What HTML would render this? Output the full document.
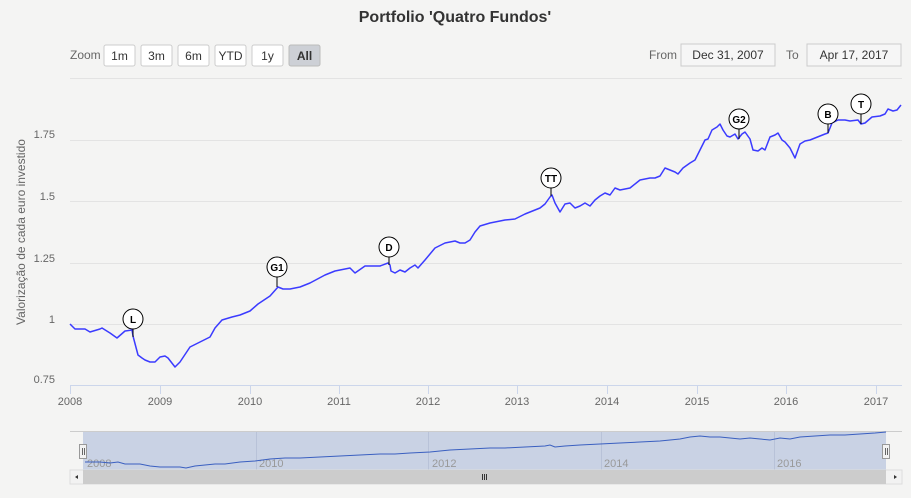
<!DOCTYPE html>
<html><head><meta charset="utf-8"><style>
html,body{margin:0;padding:0;width:911px;height:498px;overflow:hidden;background:#f4f4f3;font-family:"Liberation Sans Narrow","Liberation Sans",sans-serif;}
</style></head><body>
<svg width="911" height="498" xmlns="http://www.w3.org/2000/svg" font-family="Liberation Sans Narrow, Liberation Sans, sans-serif">
<rect width="911" height="498" fill="#f4f4f3"/>
<text x="455" y="22" text-anchor="middle" font-size="16" font-weight="bold" fill="#333">Portfolio 'Quatro Fundos'</text>
<text x="70" y="59" font-size="12" fill="#666">Zoom</text>
<g font-size="12" fill="#333" text-anchor="middle">
<rect x="104" y="45" width="31" height="21" rx="2" fill="#fff" stroke="#ccc"/><text x="119.5" y="60">1m</text>
<rect x="141" y="45" width="31" height="21" rx="2" fill="#fff" stroke="#ccc"/><text x="156.5" y="60">3m</text>
<rect x="178" y="45" width="31" height="21" rx="2" fill="#fff" stroke="#ccc"/><text x="193.5" y="60">6m</text>
<rect x="215" y="45" width="31" height="21" rx="2" fill="#fff" stroke="#ccc"/><text x="230.5" y="60">YTD</text>
<rect x="252" y="45" width="31" height="21" rx="2" fill="#fff" stroke="#ccc"/><text x="267.5" y="60">1y</text>
<rect x="289" y="45" width="31" height="21" rx="2" fill="#cdd0d6" stroke="#bbb"/><text x="304.5" y="60" font-weight="bold">All</text>
<rect x="681" y="44" width="94" height="22" fill="#f6f6f6" stroke="#ccc"/><text x="728" y="59">Dec 31, 2007</text>
<rect x="807" y="44" width="94" height="22" fill="#f6f6f6" stroke="#ccc"/><text x="854" y="59">Apr 17, 2017</text>
</g>
<text x="649" y="59" font-size="12" fill="#666">From</text>
<text x="786" y="59" font-size="12" fill="#666">To</text>
<g stroke="#e3e3e3" stroke-width="1">
<line x1="70" y1="78.5" x2="902" y2="78.5"/>
<line x1="70" y1="140.5" x2="902" y2="140.5"/>
<line x1="70" y1="201.5" x2="902" y2="201.5"/>
<line x1="70" y1="263.5" x2="902" y2="263.5"/>
<line x1="70" y1="324.5" x2="902" y2="324.5"/>
</g>
<line x1="70" y1="385.5" x2="902" y2="385.5" stroke="#ccd6eb"/>
<g stroke="#ccd6eb"><line x1="70.5" y1="385" x2="70.5" y2="394"/><line x1="160.5" y1="385" x2="160.5" y2="394"/><line x1="250.5" y1="385" x2="250.5" y2="394"/><line x1="339.5" y1="385" x2="339.5" y2="394"/><line x1="428.5" y1="385" x2="428.5" y2="394"/><line x1="517.5" y1="385" x2="517.5" y2="394"/><line x1="607.5" y1="385" x2="607.5" y2="394"/><line x1="697.5" y1="385" x2="697.5" y2="394"/><line x1="786.5" y1="385" x2="786.5" y2="394"/><line x1="876.5" y1="385" x2="876.5" y2="394"/></g>
<g font-size="11" fill="#666" text-anchor="middle">
<text x="70" y="405">2008</text><text x="160" y="405">2009</text><text x="250" y="405">2010</text><text x="339" y="405">2011</text><text x="428" y="405">2012</text><text x="517" y="405">2013</text><text x="607" y="405">2014</text><text x="697" y="405">2015</text><text x="786" y="405">2016</text><text x="876" y="405">2017</text>
</g>
<g font-size="11" fill="#666" text-anchor="end">
<text x="55" y="138">1.75</text><text x="55" y="200">1.5</text><text x="55" y="262">1.25</text><text x="55" y="323">1</text><text x="55" y="383">0.75</text>
</g>
<text transform="translate(25,232) rotate(-90)" text-anchor="middle" font-size="12" fill="#666">Valorização de cada euro investido</text>
<polyline fill="none" stroke="#3b3bff" stroke-width="1.5" stroke-linejoin="round" points="70,324 75,329 85,329 90,332 100,329 102,328 110,333 117,338 125,331 132,330 133,336 138,355 142,358 145,360 150,362 155,362 160,357 165,356 168,358 175,367 180,362 190,347 200,342 210,337 215,328 222,320 232,317 240,315 250,311 258,304 270,296 278,287 283,289 290,289 300,287 310,283 325,275 335,271 340,270 350,268 355,273 365,266 375,266 380,266 388,263 390,265 391,271 395,273 400,270 405,272 410,268 415,265 418,268 425,260 435,248 445,243 455,241 460,243 465,243 470,240 475,232 480,226 490,223 495,222 505,220 515,219 525,214 535,210 540,208 545,204 550,197 552,195 555,203 560,212 565,204 570,203 575,208 580,206 585,203 590,206 595,200 600,196 605,193 610,195 615,188 620,190 630,188 640,180 650,178 655,178 660,176 665,168 670,170 675,172 678,174 683,168 690,163 695,160 700,150 705,140 708,139 712,130 717,127 720,124 723,130 727,136 730,137 735,134 738,139 742,134 745,132 750,139 753,150 758,151 762,148 765,150 770,137 775,135 778,133 782,140 785,142 790,148 795,158 800,144 805,141 810,140 815,138 820,136 825,134 828,133 832,123 838,120 845,120 850,121 858,120 861,124 865,123 872,117 880,116 885,114 888,109 893,111 897,110 901,105"/>
<g stroke="#000" stroke-width="1" fill="#fff" font-size="10" font-weight="bold" text-anchor="middle">
<line x1="133" y1="329" x2="133" y2="337"/><circle cx="133" cy="319" r="10"/>
<line x1="277" y1="277" x2="277" y2="287"/><circle cx="277" cy="267" r="10"/>
<line x1="389" y1="257" x2="389" y2="265"/><circle cx="389" cy="247" r="10"/>
<line x1="551" y1="188" x2="551" y2="196"/><circle cx="551" cy="178" r="10"/>
<line x1="739" y1="129" x2="739" y2="139"/><circle cx="739" cy="119" r="10"/>
<line x1="828" y1="124" x2="828" y2="133"/><circle cx="828" cy="114" r="10"/>
<line x1="861" y1="114" x2="861" y2="124"/><circle cx="861" cy="104" r="10"/>
<g stroke="none" fill="#000">
<text x="133" y="323">L</text><text x="277" y="271">G1</text><text x="389" y="251">D</text><text x="551" y="182">TT</text><text x="739" y="123">G2</text><text x="828" y="118">B</text><text x="861" y="108">T</text>
</g></g>
<line x1="70" y1="431.5" x2="902" y2="431.5" stroke="#ccc"/>
<rect x="83" y="432" width="803" height="38" fill="rgba(102,133,194,0.3)"/>
<g stroke="#b8c2d8"><line x1="256.5" y1="432" x2="256.5" y2="470"/><line x1="428.5" y1="432" x2="428.5" y2="470"/><line x1="601.5" y1="432" x2="601.5" y2="470"/><line x1="774.5" y1="432" x2="774.5" y2="470"/></g>
<g font-size="11" fill="#999"><text x="87" y="467">2008</text><text x="259" y="467">2010</text><text x="432" y="467">2012</text><text x="604" y="467">2014</text><text x="777" y="467">2016</text></g>
<polyline fill="none" stroke="#3a5fc0" stroke-width="1" points="85,462 100,462 110,463 118,462 125,464 132,464 140,464 150,466 160,467 170,467 180,467 186,468 195,466 205,465 215,464 225,464 240,462 255,461 270,459 285,458 300,458 320,457 340,456 360,455 380,454 395,454 410,453 430,452 450,450 470,449 490,448 505,448 525,447 545,446 550,445 555,447 565,446 580,445 600,444 620,443 640,442 660,441 680,439 690,437 700,436 710,437 720,437 730,438 740,439 750,438 760,439 770,440 780,438 790,439 800,437 815,436 830,435 845,435 860,434 875,433 886,432"/>
<g fill="#f2f2f2" stroke="#999"><rect x="79.5" y="444.5" width="7" height="14"/><rect x="882.5" y="444.5" width="7" height="14"/></g>
<g stroke="#666"><line x1="82.5" y1="448" x2="82.5" y2="455"/><line x1="84.5" y1="448" x2="84.5" y2="455"/><line x1="885.5" y1="448" x2="885.5" y2="455"/><line x1="887.5" y1="448" x2="887.5" y2="455"/></g>
<rect x="70" y="470" width="832" height="14" fill="#f2f2f2" stroke="#ddd"/>
<rect x="83" y="470" width="803" height="14" fill="#cccccc"/>
<g fill="#333"><path d="M75,477 l3,-2 v4z"/><path d="M897,477 l-3,-2 v4z"/></g>
<g stroke="#333"><line x1="482.5" y1="474" x2="482.5" y2="480"/><line x1="484.5" y1="474" x2="484.5" y2="480"/><line x1="486.5" y1="474" x2="486.5" y2="480"/></g>
</svg>
</body></html>
